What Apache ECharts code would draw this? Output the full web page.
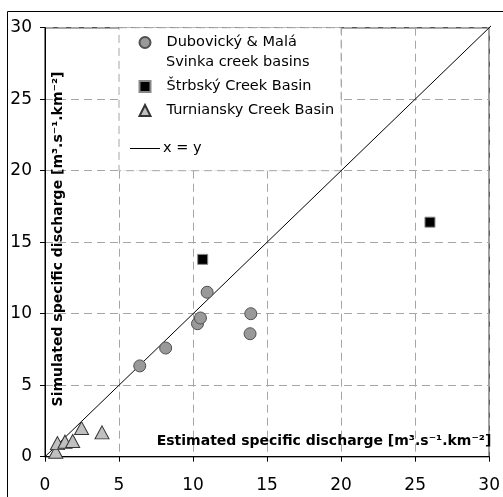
<!DOCTYPE html>
<html>
<head>
<meta charset="utf-8">
<script src="https://cdn.jsdelivr.net/npm/echarts@6/dist/echarts.min.js"></script>
<style>
  html, body { margin: 0; padding: 0; background: #fff; }
  #chart { width: 503px; height: 497px; }
</style>
</head>
<body>
<div id="chart"></div>
<script>
// values
var dubName = 'Dubovický & Malá\nSvinka creek basins';
var dubX = [6.4, 8.15, 10.3, 10.5, 10.95, 13.85, 13.9];
var dubY = [6.35, 7.6, 9.3, 9.7, 11.5, 8.6, 10.0];

var strName = 'Štrbský Creek Basin';
var strX = [10.65, 26.0];
var strY = [13.8, 16.4];

var turName = 'Turniansky Creek Basin';
var turX = [0.73, 0.84, 1.35, 1.87, 2.47, 3.85];
var turY = [0.35, 0.95, 1.05, 1.1, 2.0, 1.7];

var lineName = 'x = y';
var lineX = [0, 30.4];
var lineY = [0, 30.4];

var axisMin = 0, axisMax = 30, axisStep = 5;

var font = 'DejaVu Sans';

function pairs(xs, ys) {
    var out = [];
    xs.forEach(function (x, i) { out.push([x, ys[i]]); });
    return out;
}

var myChart = echarts.init(document.getElementById('chart'));

// one axis config, used for both x and y
function axis(isX) {
    return {
        type: 'value',
        min: axisMin,
        max: axisMax,
        interval: axisStep,
        axisLine: { show: true, lineStyle: { color: '#000', width: 1 } },
        axisTick: { show: true, length: 5, lineStyle: { color: '#000' } },
        axisLabel: {
            color: '#000',
            fontFamily: font,
            fontSize: 17,
            margin: isX ? 20 : 13
        },
        splitLine: { show: true, lineStyle: { color: '#a6a6a6', type: [8, 5], width: 1 } }
    };
}

function legendAt(name, left, top, w, h, pad, icon) {
    return {
        data: [icon ? { name: name, icon: icon } : name],
        left: left,
        top: top,
        padding: 0,
        itemWidth: w,
        itemHeight: h,
        selectedMode: false,
        formatter: function (n) { return n.split('\n')[0]; },
        textStyle: { fontFamily: font, fontSize: 14.5, color: '#000', lineHeight: 14, padding: [0, 0, 0, pad] }
    };
}

var option = {
    animation: false,
    grid: {
        left: 45, right: 8, top: 27.7, bottom: 40.3,
        show: true, borderColor: '#555', borderWidth: 1.5, backgroundColor: 'transparent'
    },
    xAxis: axis(true),
    yAxis: axis(false),
    legend: [
        legendAt(dubName, 138.5, 35, 11, 11, 11),
        legendAt(strName, 138.5, 79, 11, 11, 11),
        legendAt(turName, 138.5, 103, 11, 11, 11),
        legendAt(lineName, 130, 141, 30, 1, -2, 'rect')
    ],
    graphic: [
        {
            type: 'rect', silent: true, z: 3,
            left: 7, top: 11,
            shape: { width: 520, height: 520 },
            style: { fill: 'transparent', stroke: '#000', lineWidth: 1 }
        },
        {
            type: 'text', silent: true, z: 10,
            x: 166, y: 62,
            style: { text: 'Svinka creek basins', font: '14.5px "DejaVu Sans"', fill: '#000', verticalAlign: 'middle' }
        },
        {
            type: 'text', silent: true, z: 10,
            x: 58, y: 239, rotation: Math.PI / 2,
            style: {
                text: 'Simulated specific discharge [m³.s⁻¹.km⁻²]',
                font: 'bold 14px "DejaVu Sans"', fill: '#000', align: 'center', verticalAlign: 'middle'
            }
        },
        {
            type: 'text', silent: true, z: 10,
            x: 324, y: 441,
            style: {
                text: 'Estimated specific discharge [m³.s⁻¹.km⁻²]',
                font: 'bold 14px "DejaVu Sans"', fill: '#000', align: 'center', verticalAlign: 'middle'
            }
        }
    ],
    series: [
        {
            name: lineName,
            type: 'line',
            data: pairs(lineX, lineY),
            symbol: 'none',
            clip: false,
            silent: true,
            lineStyle: { color: '#000', width: 1 },
            itemStyle: { color: '#000' },
            z: 3,
            // white legend box, dashed border like the grid lines
            markArea: {
                silent: true,
                label: { show: false },
                itemStyle: { color: '#fff', borderColor: '#a6a6a6', borderWidth: 1, borderType: [8, 5] },
                data: [[{ coord: [5, 30] }, { coord: [20, 20] }]]
            }
        },
        {
            name: dubName,
            type: 'scatter',
            data: pairs(dubX, dubY),
            symbol: 'circle',
            symbolSize: 12,
            itemStyle: { color: '#999999', borderColor: '#505050', borderWidth: 1, opacity: 1 },
            z: 4
        },
        {
            name: strName,
            type: 'scatter',
            data: pairs(strX, strY),
            symbol: 'rect',
            symbolSize: 10,
            itemStyle: { color: '#000', borderColor: '#888', borderWidth: 1, opacity: 1 },
            z: 4
        },
        {
            name: turName,
            type: 'scatter',
            data: pairs(turX, turY),
            symbol: 'triangle',
            symbolSize: [14, 13],
            itemStyle: { color: '#c0c0c0', borderColor: '#333', borderWidth: 1, opacity: 1 },
            z: 4
        }
    ]
};

myChart.setOption(option);
</script>
</body>
</html>
